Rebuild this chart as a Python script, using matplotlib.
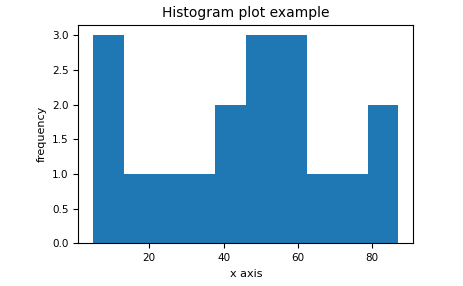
import matplotlib
matplotlib.use("Agg")
import matplotlib.pyplot as plt

# sample values (10 bins)
values = [5, 7, 12, 15, 25, 33, 40, 44, 47, 50, 52, 57, 60, 62, 66, 74, 80, 87]
n_bins = 10

fig = plt.figure(figsize=(4.63, 2.86), dpi=100)
ax = fig.add_axes([0.169, 0.149, 0.724, 0.764])
ax.hist(values, bins=n_bins, color="#1f77b4")
ax.set_title("Histogram plot example", fontsize=10)
ax.set_xlabel("x axis", fontsize=8)
ax.set_ylabel("frequency", fontsize=8)
ax.tick_params(labelsize=7.5)
ax.set_yticks([0, 0.5, 1.0, 1.5, 2.0, 2.5, 3.0])
fig.savefig("out.png", dpi=100)
